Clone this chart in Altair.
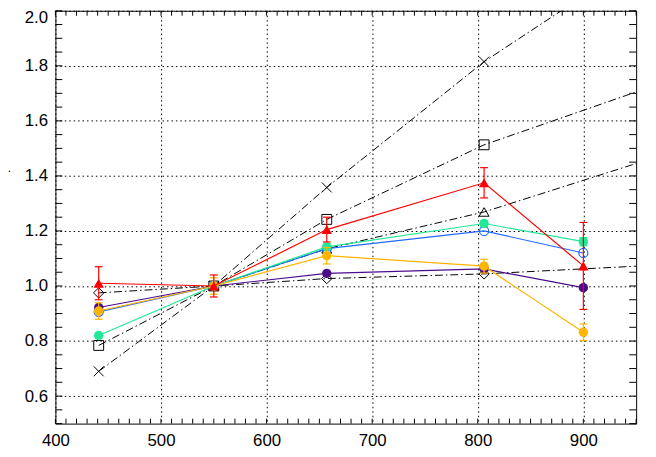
import altair as alt
import pandas as pd

# ---------------- data ----------------
wavelength = [441, 550, 657, 806, 900]

red_y = [1.010, 1.000, 1.205, 1.375, 1.073]
red_err = [0.060, 0.040, 0.045, 0.055, 0.158]
orange_y = [0.909, 1.000, 1.110, 1.072, 0.832]
orange_err = [0.030, 0.030, 0.030, 0.025, 0.030]
green_y = [0.820, 1.000, 1.142, 1.227, 1.161]
green_err = [0.008, 0.008, 0.010, 0.010, 0.015]
blue_y = [0.906, 1.000, 1.136, 1.200, 1.120]
purple_y = [0.922, 1.000, 1.046, 1.062, 0.994]

black_x = [441, 550, 657, 806]
cross_y = [0.690, 1.000, 1.358, 1.815]
square_y = [0.784, 1.000, 1.242, 1.513]
diamond_y = [0.975, 1.000, 1.027, 1.044]
tri_x = [550, 657, 806]
tri_y = [1.000, 1.135, 1.269]

# extension of the dash-dot lines to the right edge
edge_x = 950
cross_end = 2.18
square_end = 1.705
tri_end = 1.445
diamond_end = 1.072

x_labels = [400, 500, 600, 700, 800, 900]
y_labels = [0.6, 0.8, 1.0, 1.2, 1.4, 1.6, 1.8, 2.0]
x_minor = list(range(400, 951, 10))
y_minor = [0.50, 0.55, 0.60, 0.65, 0.70, 0.75, 0.80, 0.85, 0.90, 0.95, 1.00,
           1.05, 1.10, 1.15, 1.20, 1.25, 1.30, 1.35, 1.40, 1.45, 1.50, 1.55,
           1.60, 1.65, 1.70, 1.75, 1.80, 1.85, 1.90, 1.95, 2.00]

W, H = 588, 418
FONT = "Liberation Sans"
FS = 17

X = alt.X("x:Q", scale=alt.Scale(domain=[400, 950], nice=False, zero=False),
          axis=alt.Axis(values=x_labels, format="d", title=None, ticks=False, domain=False,
                        grid=True, gridDash=[1.5, 3], gridColor="black", gridOpacity=1,
                        gridWidth=1, labelFontSize=FS, labelFont=FONT, labelColor="black",
                        labelPadding=9, labelFlush=False))
Y = alt.Y("y:Q", scale=alt.Scale(domain=[0.5, 2.0], nice=False, zero=False),
          axis=alt.Axis(values=y_labels, format=".1f", title=".", titleAngle=0,
                        titleX=-47, titleY=166, titleFontSize=12, titleFontWeight="normal",
                        titleFont=FONT, titleColor="black",
                        ticks=False, domain=False,
                        grid=True, gridDash=[1.5, 3], gridColor="black", gridOpacity=1,
                        gridWidth=1, labelFontSize=FS, labelFont=FONT, labelColor="black",
                        labelPadding=8, labelFlush=True, labelFlushOffset=1))

layers = []

# ticks drawn inward (IDL style)
xt = pd.DataFrame({"x": x_minor})
yt = pd.DataFrame({"y": y_minor})
layers.append(alt.Chart(xt).mark_rule(color="black", strokeWidth=1).encode(
    x=X, y=alt.value(H), y2=alt.value(H - 5)))
layers.append(alt.Chart(xt).mark_rule(color="black", strokeWidth=1).encode(
    x=X, y=alt.value(0), y2=alt.value(5)))
layers.append(alt.Chart(yt).mark_rule(color="black", strokeWidth=1).encode(
    y=Y, x=alt.value(0), x2=alt.value(7)))
layers.append(alt.Chart(yt).mark_rule(color="black", strokeWidth=1).encode(
    y=Y, x=alt.value(W), x2=alt.value(W - 7)))

DASH = [8, 3, 1.5, 3]


def black_series(xs, ys, end_y, shape, size):
    line_df = pd.DataFrame({"x": xs + [edge_x], "y": ys + [end_y], "o": list(range(len(xs) + 1))})
    pt_df = pd.DataFrame({"x": xs, "y": ys})
    ln = alt.Chart(line_df).mark_line(color="black", strokeWidth=1, strokeDash=DASH,
                                      clip=True).encode(x=X, y=Y, order="o:Q")
    pt = alt.Chart(pt_df).mark_point(shape=shape, size=size, filled=False, color="black",
                                     strokeWidth=1, opacity=1).encode(x=X, y=Y)
    return [ln, pt]


layers += black_series(black_x, cross_y, cross_end, "M-1,-1L1,1M1,-1L-1,1", 100)
layers += black_series(black_x, square_y, square_end, "square", 100)
layers += black_series(tri_x, tri_y, tri_end, "triangle-up", 100)
layers += black_series(black_x, diamond_y, diamond_end, "diamond", 110)


def colored(ys, color, shape, size, filled, err=None):
    df = pd.DataFrame({"x": wavelength, "y": ys})
    out = [alt.Chart(df).mark_line(color=color, strokeWidth=1.2, clip=True).encode(x=X, y=Y)]
    if err is not None:
        edf = pd.DataFrame({"x": wavelength,
                            "lo": [a - b for a, b in zip(ys, err)],
                            "hi": [a + b for a, b in zip(ys, err)]})
        out.append(alt.Chart(edf).mark_rule(color=color, strokeWidth=1.2).encode(
            x=X, y=alt.Y("lo:Q", scale=alt.Scale(domain=[0.5, 2.0], nice=False, zero=False)),
            y2="hi:Q"))
        for col in ["lo", "hi"]:
            out.append(alt.Chart(edf).mark_tick(color=color, orient="horizontal", size=8,
                                                thickness=1.2, opacity=1).encode(
                x=X, y=alt.Y(f"{col}:Q", scale=alt.Scale(domain=[0.5, 2.0], nice=False, zero=False))))
    if filled:
        out.append(alt.Chart(df).mark_point(shape=shape, size=size, filled=True, color=color,
                                            opacity=1).encode(x=X, y=Y))
    else:
        out.append(alt.Chart(df).mark_point(shape=shape, size=size, filled=False, color=color,
                                            strokeWidth=1.2, opacity=1).encode(x=X, y=Y))
    return out


layers += colored(purple_y, "#4B0C8C", "circle", 90, True)
layers += colored(blue_y, "#1F6BFF", "circle", 85, False)
layers += colored(green_y, "#22E896", "circle", 90, True, green_err)
layers += colored(orange_y, "#FFB400", "circle", 90, True, orange_err)
layers += colored(red_y, "#FF0000", "triangle-up", 110, True, red_err)

chart = alt.layer(*layers).properties(
    width=W, height=H,
    autosize=alt.AutoSizeParams(type="none"),
    padding={"left": 48, "top": 0, "right": 12, "bottom": 31},
    background="white",
).configure_view(stroke="black", strokeWidth=1)

chart.save("out.html", embed_options={"renderer": "svg", "actions": False})
